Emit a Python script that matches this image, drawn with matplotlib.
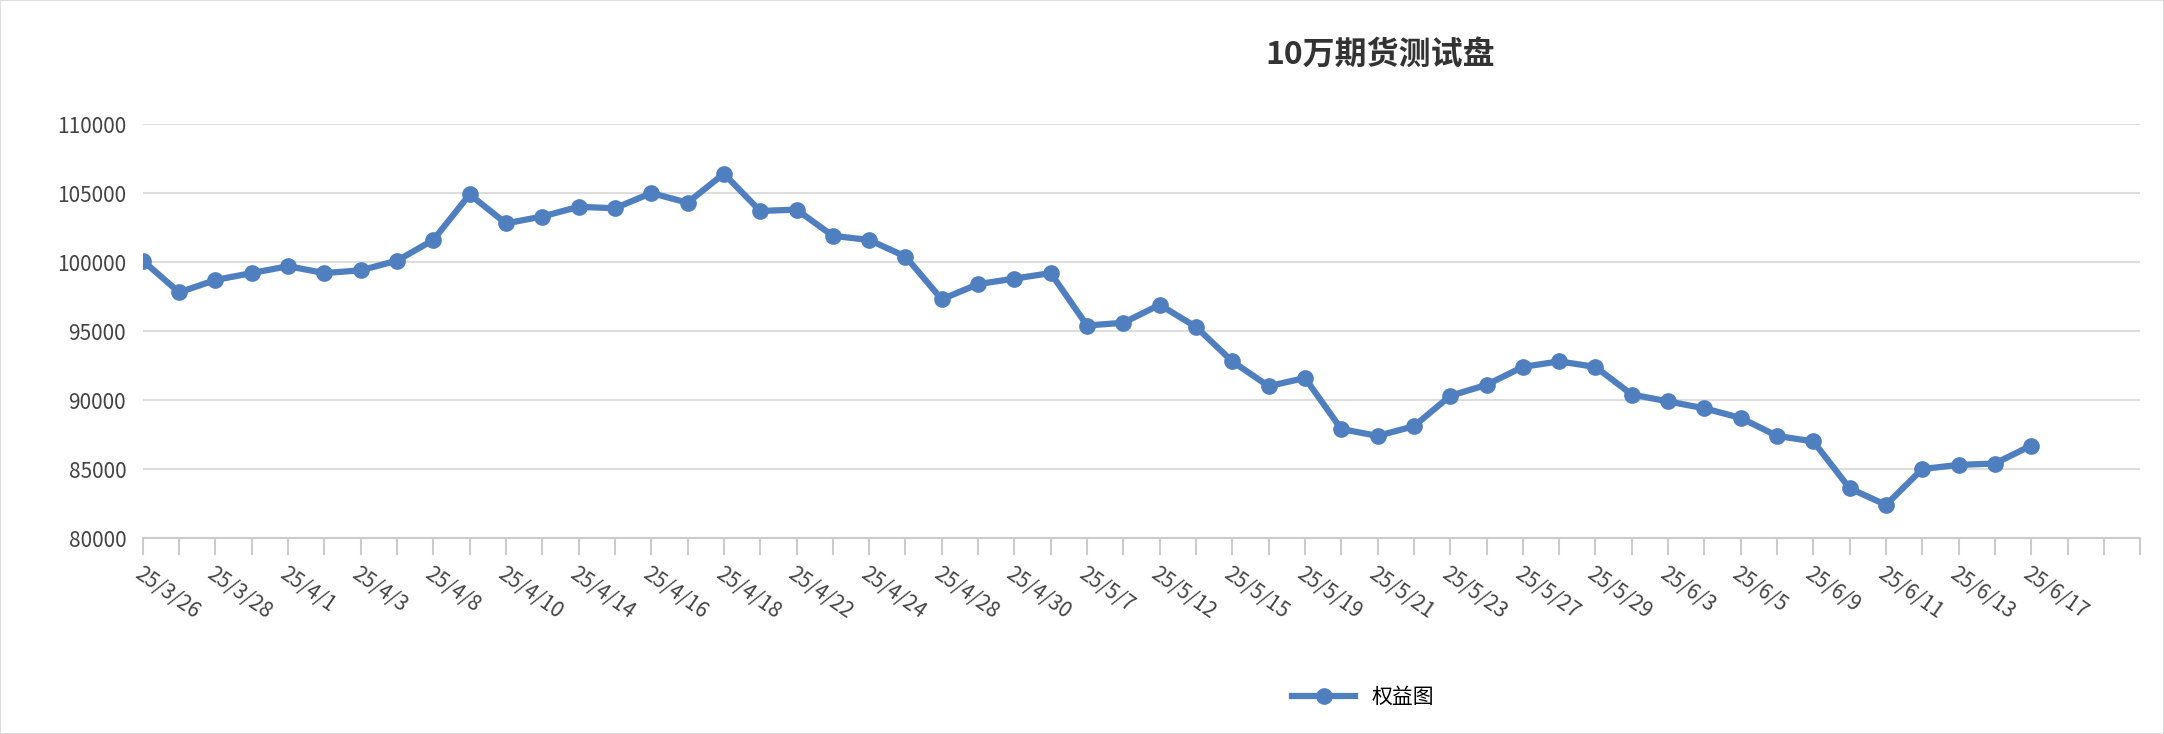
import matplotlib
matplotlib.use("Agg")
import matplotlib.pyplot as plt
from matplotlib.lines import Line2D

plt.rcParams['font.family'] = ['Noto Sans CJK SC', 'DejaVu Sans']

title = "10万期货测试盘"
series_name = "权益图"
dates = ["25/3/26","25/3/27","25/3/28","25/3/31","25/4/1","25/4/2","25/4/3","25/4/7",
         "25/4/8","25/4/9","25/4/10","25/4/11","25/4/14","25/4/15","25/4/16","25/4/17",
         "25/4/18","25/4/21","25/4/22","25/4/23","25/4/24","25/4/25","25/4/28","25/4/29",
         "25/4/30","25/5/6","25/5/7","25/5/8","25/5/12","25/5/13","25/5/15","25/5/16",
         "25/5/19","25/5/20","25/5/21","25/5/22","25/5/23","25/5/26","25/5/27","25/5/28",
         "25/5/29","25/5/30","25/6/3","25/6/4","25/6/5","25/6/6","25/6/9","25/6/10",
         "25/6/11","25/6/12","25/6/13","25/6/16","25/6/17","","",""]
values = [100100,97800,98700,99200,99700,99200,99400,100100,101600,104900,102800,103300,
          104000,103900,105000,104300,106400,103700,103800,101900,101600,100400,97300,98400,
          98800,99200,95400,95600,96900,95300,92800,91000,91600,87900,87400,88100,90300,91100,
          92400,92800,92400,90400,89900,89400,88700,87400,87000,83600,82400,85000,85300,85400,86700]

fig = plt.figure(figsize=(21.64, 7.34), dpi=100)
ax = fig.add_axes([0.066, 0.267, 0.923, 0.564])
color = '#4f7fbf'
x = list(range(len(values)))
ax.plot(x, values, color=color, lw=4.5, marker='o', ms=11, zorder=3)
ax.set_xlim(0, len(dates) - 1)
ax.set_ylim(80000, 110000)
ax.set_yticks(range(80000, 110001, 5000))
ax.yaxis.grid(True, color='#dddddd', lw=1.5)
ax.set_axisbelow(True)
for s in ['top', 'right', 'left']:
    ax.spines[s].set_visible(False)
ax.spines['bottom'].set_color('#cccccc')
ax.spines['bottom'].set_linewidth(1.5)
ax.tick_params(axis='y', length=0, labelsize=15, labelcolor='#444444', pad=12)
ax.set_xticks(x_all := list(range(len(dates))))
ax.set_xticklabels([d if i % 2 == 0 else '' for i, d in enumerate(dates)])
ax.tick_params(axis='x', length=12, color='#cccccc', width=1.5, labelsize=15,
               labelcolor='#444444', pad=6)
for lab in ax.get_xticklabels():
    lab.set_rotation(-35)
    lab.set_ha('left')
    lab.set_va('top')
    lab.set_rotation_mode('anchor')

fig.text(0.638, 0.925, title, ha='center', va='center', fontsize=23, fontweight='bold', color='#333333')
h = Line2D([], [], color=color, lw=4.5, marker='o', ms=11)
fig.legend([h], [series_name], loc='center', bbox_to_anchor=(0.63, 0.05), frameon=False,
           fontsize=15, handlelength=3)
fig.patches.append(plt.Rectangle((0, 0), 1, 1, transform=fig.transFigure, fill=False,
                                 ec='#dddddd', lw=1.5))
fig.savefig('out.png', dpi=100)
